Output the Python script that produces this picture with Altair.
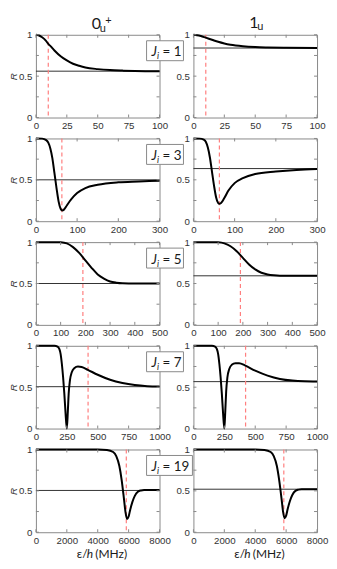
import altair as alt
import pandas as pd

# ---------------- data ----------------
J_VALUES = [1, 3, 5, 7, 19]
X_MAX = [100, 300, 500, 1000, 8000]
X_TICKS = [
    [0, 25, 50, 75, 100],
    [0, 100, 200, 300],
    [0, 100, 200, 300, 400, 500],
    [0, 250, 500, 750, 1000],
    [0, 2000, 4000, 6000, 8000],
]
Y_TICKS = [0, 0.25, 0.5, 0.75, 1]
DASH_X = [10, 63, 190, 422, 5850]
ASYM_0U = [0.56, 0.50, 0.50, 0.506, 0.505]
ASYM_1U = [0.84, 0.636, 0.593, 0.567, 0.52]

# J_i = 1
X_J1_0U = [0, 2, 5, 8, 10, 12, 15, 20, 25, 30, 35, 40, 50, 60, 70, 80, 100]
R_J1_0U = [1.0, 0.995, 0.97, 0.93, 0.89, 0.86, 0.81, 0.74, 0.69, 0.65, 0.625, 0.605, 0.585, 0.573, 0.567, 0.563, 0.56]
X_J1_1U = [0, 3, 6, 10, 15, 20, 25, 30, 40, 50, 60, 75, 100]
R_J1_1U = [1.0, 0.995, 0.985, 0.965, 0.94, 0.915, 0.895, 0.88, 0.862, 0.852, 0.847, 0.843, 0.84]
# J_i = 3
X_J3_0U = [0, 15, 25, 30, 35, 40, 45, 50, 55, 60, 64, 68, 75, 85, 100, 120, 150, 200, 250, 300]
R_J3_0U = [1.0, 0.998, 0.98, 0.95, 0.88, 0.76, 0.58, 0.40, 0.24, 0.15, 0.13, 0.14, 0.19, 0.26, 0.34, 0.40, 0.44, 0.47, 0.48, 0.49]
X_J3_1U = [0, 15, 25, 30, 35, 40, 45, 50, 55, 60, 63, 67, 75, 85, 100, 120, 150, 200, 250, 300]
R_J3_1U = [1.0, 0.998, 0.985, 0.96, 0.89, 0.77, 0.60, 0.43, 0.29, 0.22, 0.21, 0.22, 0.28, 0.37, 0.46, 0.52, 0.57, 0.60, 0.62, 0.63]
# J_i = 5
X_J5_0U = [0, 80, 100, 125, 150, 175, 200, 225, 250, 275, 300, 325, 350, 400, 500]
R_J5_0U = [1.0, 1.0, 0.998, 0.985, 0.94, 0.87, 0.78, 0.69, 0.61, 0.56, 0.525, 0.51, 0.503, 0.5, 0.5]
X_J5_1U = [0, 80, 100, 125, 150, 175, 200, 225, 250, 275, 300, 325, 350, 400, 500]
R_J5_1U = [1.0, 1.0, 0.998, 0.985, 0.95, 0.89, 0.81, 0.73, 0.67, 0.63, 0.61, 0.60, 0.595, 0.593, 0.593]
# J_i = 7
X_J7_0U = [0, 150, 175, 190, 200, 210, 220, 230, 240, 250, 258, 265, 275, 290, 310, 340, 370, 420, 500, 600, 700, 800, 900, 1000]
R_J7_0U = [1.0, 1.0, 0.99, 0.96, 0.90, 0.78, 0.62, 0.42, 0.18, 0.0, 0.20, 0.42, 0.58, 0.68, 0.73, 0.75, 0.745, 0.71, 0.65, 0.59, 0.55, 0.525, 0.512, 0.507]
X_J7_1U = [0, 150, 175, 190, 200, 210, 220, 230, 240, 250, 258, 265, 275, 290, 310, 340, 370, 420, 500, 600, 700, 800, 900, 1000]
R_J7_1U = [1.0, 1.0, 0.99, 0.96, 0.90, 0.78, 0.62, 0.42, 0.18, 0.0, 0.22, 0.45, 0.62, 0.72, 0.77, 0.79, 0.79, 0.76, 0.70, 0.64, 0.60, 0.58, 0.572, 0.57]
# J_i = 19
X_J19_0U = [0, 4000, 4600, 5000, 5200, 5400, 5550, 5700, 5800, 5900, 6000, 6100, 6250, 6400, 6600, 6800, 7000, 8000]
R_J19_0U = [1.0, 1.0, 0.995, 0.97, 0.92, 0.80, 0.63, 0.40, 0.24, 0.16, 0.19, 0.27, 0.37, 0.44, 0.49, 0.505, 0.51, 0.51]
X_J19_1U = [0, 4000, 4600, 5000, 5200, 5400, 5550, 5700, 5800, 5900, 6000, 6100, 6250, 6400, 6600, 6800, 7000, 8000]
R_J19_1U = [1.0, 1.0, 0.995, 0.97, 0.92, 0.80, 0.63, 0.41, 0.25, 0.17, 0.20, 0.28, 0.38, 0.45, 0.50, 0.515, 0.52, 0.52]

CURVES = [
    [(X_J1_0U, R_J1_0U), (X_J1_1U, R_J1_1U)],
    [(X_J3_0U, R_J3_0U), (X_J3_1U, R_J3_1U)],
    [(X_J5_0U, R_J5_0U), (X_J5_1U, R_J5_1U)],
    [(X_J7_0U, R_J7_0U), (X_J7_1U, R_J7_1U)],
    [(X_J19_0U, R_J19_0U), (X_J19_1U, R_J19_1U)],
]
ASYM = [ASYM_0U, ASYM_1U]

# ---------------- styling ----------------
W, H = 124, 83
FRAME = "#8a8a8a"
LABEL_FONT = "Liberation Sans"
TEXT_FONT = "Lato"
ONE = pd.DataFrame({"a": [0]})


def txt(text, x, y, size, style="normal", align="left"):
    return alt.Chart(ONE).mark_text(
        text=text, font=TEXT_FONT, fontSize=size, fontStyle=style,
        align=align, baseline="alphabetic", color="#1a1a1a",
    ).encode(x=alt.value(x), y=alt.value(y))


def panel(row, col):
    xmax = X_MAX[row]
    xs = alt.Scale(domain=[0, xmax], nice=False, zero=True)
    ys = alt.Scale(domain=[0, 1], nice=False)
    xvals, rvals = CURVES[row][col]
    df = pd.DataFrame({"x": xvals, "r": rvals})

    xaxis = alt.Axis(values=X_TICKS[row], format="d", ticks=False, domain=False, grid=False,
                     labelFont=LABEL_FONT, labelFontSize=9.7, labelColor="#333333",
                     labelPadding=3, labelFlush=False, labelOverlap=False, title=None)
    yaxis = alt.Axis(values=Y_TICKS, ticks=False, domain=False, grid=False,
                     labelExpr="datum.value == 0 ? '0' : datum.value == 0.5 ? '0.5' : datum.value == 1 ? '1' : ''",
                     labelFont=LABEL_FONT, labelFontSize=9.7, labelColor="#333333",
                     labelPadding=4, labelFlush=False, labelOverlap=False,
                     title="R" if col == 0 else None,
                     titleFont=LABEL_FONT, titleFontStyle="italic", titleFontWeight="normal",
                     titleFontSize=10, titleColor="#333333", titlePadding=0)

    X = lambda: alt.X("x:Q", scale=xs, axis=xaxis)
    Y = lambda: alt.Y("r:Q", scale=ys, axis=yaxis)

    curve = alt.Chart(df).mark_line(color="black", strokeWidth=2, interpolate="monotone").encode(x=X(), y=Y())
    asym = alt.Chart(pd.DataFrame({"r": [ASYM[col][row]]})).mark_rule(
        color="#333333", strokeWidth=1).encode(y=Y())
    dash = alt.Chart(pd.DataFrame({"x": [DASH_X[row]]})).mark_rule(
        color="#ff7f7f", strokeWidth=1.2, strokeDash=[4, 3]).encode(x=X())

    xt = pd.DataFrame({"x": X_TICKS[row]})
    yt = pd.DataFrame({"r": Y_TICKS})
    tk = dict(color=FRAME, strokeWidth=1)
    xt_b = alt.Chart(xt).mark_rule(**tk).encode(x=X(), y=alt.value(H), y2=alt.value(H - 3))
    xt_t = alt.Chart(xt).mark_rule(**tk).encode(x=X(), y=alt.value(0), y2=alt.value(3))
    yt_l = alt.Chart(yt).mark_rule(**tk).encode(y=Y(), x=alt.value(0), x2=alt.value(3))
    yt_r = alt.Chart(yt).mark_rule(**tk).encode(y=Y(), x=alt.value(W - 3), x2=alt.value(W))

    layers = [asym, dash, curve, xt_b, xt_t, yt_l, yt_r]

    if row == 0:
        if col == 0:
            layers += [txt("0", 56, -6, 16), txt("u", 64, -3, 11), txt("+", 69.5, -11, 11)]
        else:
            layers += [txt("1", 56, -7, 16), txt("u", 64, -4.5, 11)]
    if row == 4:
        layers += [txt("ε/", 41, 109, 12), txt("h", 51, 109, 12, "italic"), txt("(MHz)", 59.5, 109, 12)]
    if col == 1:
        j = J_VALUES[row]
        right = -10 if j < 10 else -1
        box = alt.Chart(ONE).mark_rect(fill="white", stroke="#8a8a8a", strokeWidth=1).encode(
            x=alt.value(-47), x2=alt.value(right), y=alt.value(6), y2=alt.value(26))
        layers += [box, txt("J", -42, 21.5, 13.5, "italic"), txt("i", -36.5, 24.5, 9, "italic"),
                   txt("= " + str(j), -31, 21.5, 13.5)]

    return alt.layer(*layers).properties(width=W, height=H)


panels = [panel(r, c) for r in range(5) for c in range(2)]

chart = alt.ConcatChart(
    concat=panels, columns=2, spacing={"row": 21, "column": 34}, bounds="flush",
).properties(
    padding={"left": 0, "top": 5, "right": 0, "bottom": 0},
).configure_view(stroke=FRAME, strokeWidth=1)

chart.save("out.html", embed_options={"renderer": "svg", "actions": False})
